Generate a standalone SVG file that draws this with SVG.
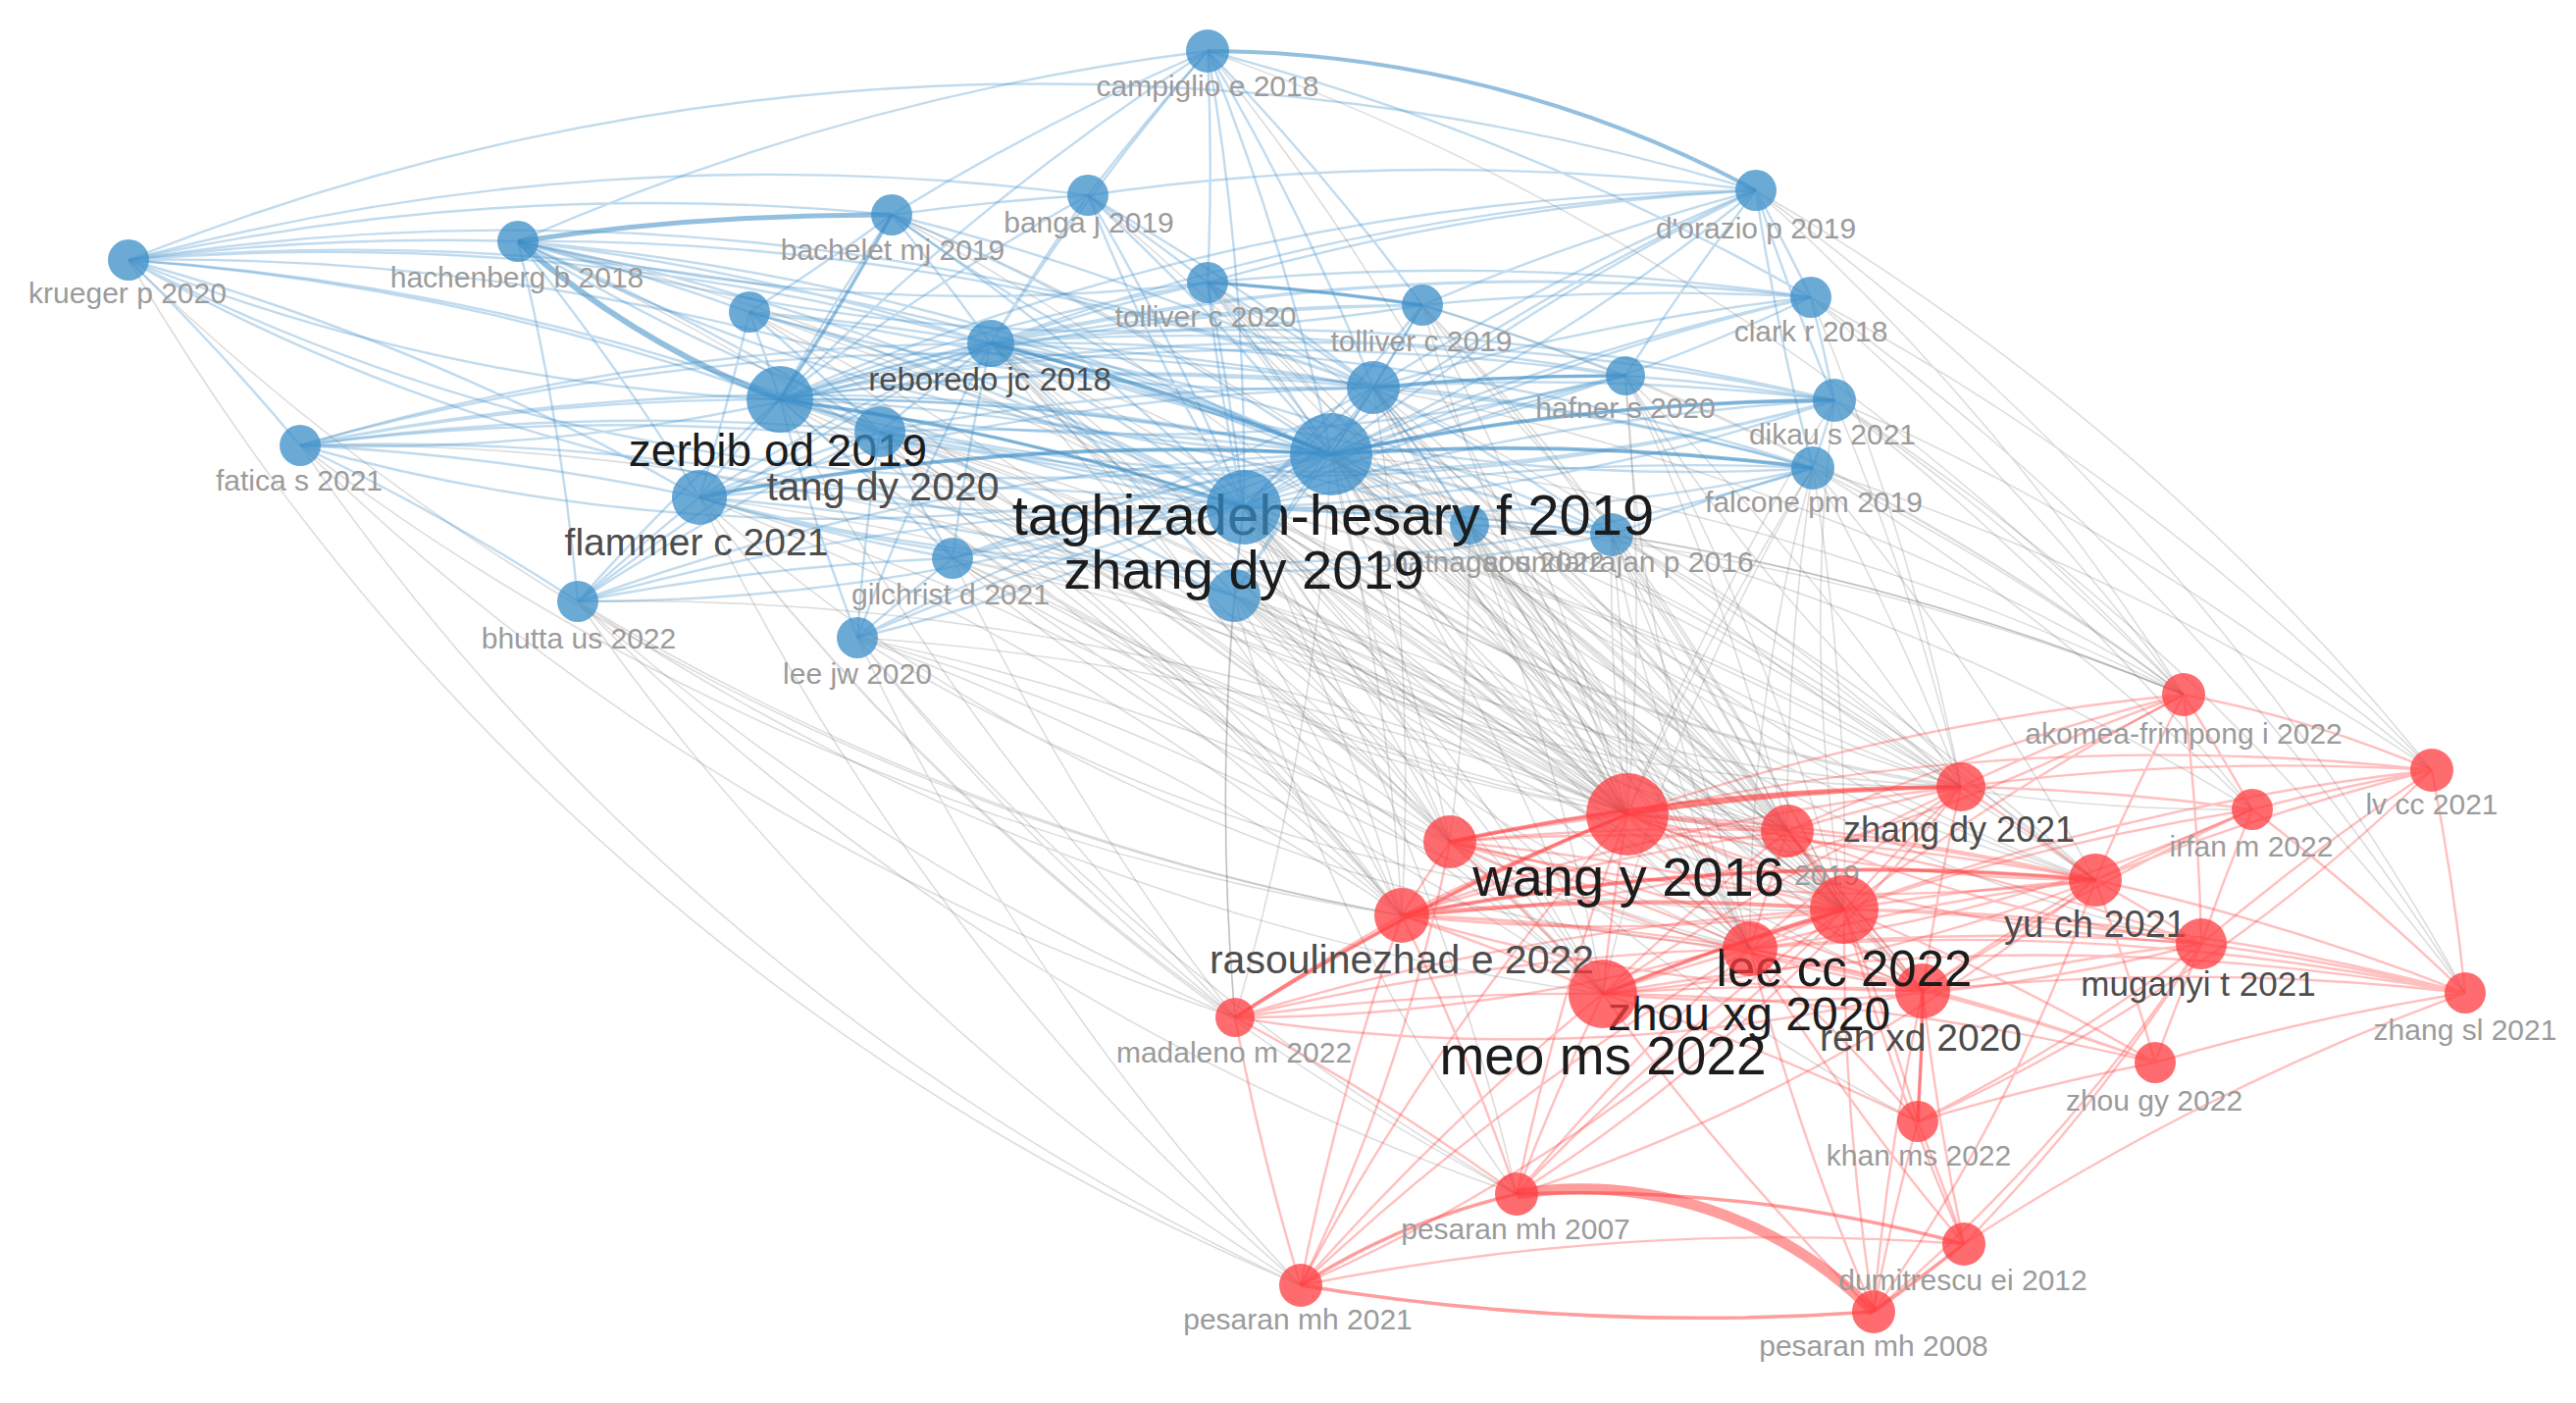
<svg xmlns="http://www.w3.org/2000/svg" width="2626" height="1430" viewBox="0 0 2626 1430">
<style>
.be{fill:none;stroke:#3f90c9;stroke-opacity:.32;stroke-width:2.4}
.bt{fill:none;stroke:#3d8cc4;stroke-opacity:.55}
.ge{fill:none;stroke:#555;stroke-opacity:.2;stroke-width:1.6}
.re{fill:none;stroke:#ff3c3c;stroke-opacity:.33;stroke-width:2.4}
.rt{fill:none;stroke:#ff3c3c;stroke-opacity:.5}
.nb{fill:#3b8ec8;fill-opacity:.75}
.nr{fill:#ff3b3f;fill-opacity:.75}
text{font-family:"Liberation Sans",Arial,sans-serif;text-anchor:middle}
.s{font-size:30px;fill:#9b9b9b}
.m{fill:#4d4d4d}
.l{fill:#1c1c1c}
</style>
<rect width="2626" height="1430" fill="#fff"/>
<g id="connectors">
<g id="grey-edges">
<path class="ge" d="M1357 463A2500 2500 0 0 1 1659 830M1357 463A2500 2500 0 0 1 1822 847M1357 463A2500 2500 0 0 1 1478 858M1357 463A2500 2500 0 0 1 1429 933M1357 463A2500 2500 0 0 1 1880 927M1357 463A2500 2500 0 0 1 1784 967M1357 463A2500 2500 0 0 1 1634 1013M1357 463A2500 2500 0 0 1 1999 802M1357 463A2500 2500 0 0 1 2226 708M1357 463A2500 2500 0 0 1 2136 897M1357 463A2500 2500 0 0 1 1960 1010M1357 463A2500 2500 0 0 1 1259 1037"/>
<path class="ge" d="M1268 517A2500 2500 0 0 1 1659 830M1268 517A2500 2500 0 0 1 1822 847M1268 517A2500 2500 0 0 1 1478 858M1268 517A2500 2500 0 0 1 1429 933M1268 517A2500 2500 0 0 1 1880 927M1268 517A2500 2500 0 0 1 1784 967M1268 517A2500 2500 0 0 1 1634 1013M1268 517A2500 2500 0 0 1 1960 1010M1268 517A2500 2500 0 0 1 1999 802M1268 517A2500 2500 0 0 1 2136 897M1259 1037A2500 2500 0 0 1 1268 517M1268 517A2500 2500 0 0 1 1546 1217M1268 517A2500 2500 0 0 1 2226 708"/>
<path class="ge" d="M1258 607A2500 2500 0 0 1 1659 830M1258 607A2500 2500 0 0 1 1822 847M1258 607A2500 2500 0 0 1 1478 858M1258 607A2500 2500 0 0 1 1429 933M1258 607A2500 2500 0 0 1 1880 927M1258 607A2500 2500 0 0 1 1634 1013M1258 607A2500 2500 0 0 1 1784 967M1259 1037A2500 2500 0 0 1 1258 607"/>
<path class="ge" d="M1400 395A2500 2500 0 0 1 1659 830M1400 395A2500 2500 0 0 1 1822 847M1400 395A2500 2500 0 0 1 1880 927M1400 395A2500 2500 0 0 1 1999 802M1400 395A2500 2500 0 0 1 2226 708M1400 395A2500 2500 0 0 1 1429 933M1400 395A2500 2500 0 0 1 1784 967"/>
<path class="ge" d="M1498 535A2500 2500 0 0 1 1659 830M1498 535A2500 2500 0 0 1 1822 847M1498 535A2500 2500 0 0 1 1478 858M1498 535A2500 2500 0 0 1 1880 927M1498 535A2500 2500 0 0 1 1784 967M1498 535A2500 2500 0 0 1 1634 1013M1498 535A2500 2500 0 0 1 1999 802M1498 535A2500 2500 0 0 1 2226 708"/>
<path class="ge" d="M1643 545A2500 2500 0 0 1 1659 830M1643 545A2500 2500 0 0 1 1822 847M1643 545A2500 2500 0 0 1 1880 927M1643 545A2500 2500 0 0 1 1999 802M1643 545A2500 2500 0 0 1 2226 708M1643 545A2500 2500 0 0 1 2136 897M1643 545A2500 2500 0 0 1 1784 967M1643 545A2500 2500 0 0 1 2296 825"/>
<path class="ge" d="M1848 477A2500 2500 0 0 1 2226 708M1848 477A2500 2500 0 0 1 2479 785M1848 477A2500 2500 0 0 1 1999 802M1659 830A2500 2500 0 0 1 1848 477M1848 477A2500 2500 0 0 1 1880 927M1848 477A2500 2500 0 0 1 2296 825M1848 477A2500 2500 0 0 1 2136 897M1822 847A2500 2500 0 0 1 1848 477"/>
<path class="ge" d="M1870 408A2500 2500 0 0 1 2226 708M1870 408A2500 2500 0 0 1 2479 785M1870 408A2500 2500 0 0 1 2296 825M1870 408A2500 2500 0 0 1 2513 1012M1870 408A2500 2500 0 0 1 1999 802M1659 830A2500 2500 0 0 1 1870 408"/>
<path class="ge" d="M1846 303A2500 2500 0 0 1 2226 708M1846 303A2500 2500 0 0 1 2479 785M1846 303A2500 2500 0 0 1 2513 1012M1846 303A2500 2500 0 0 1 1999 802M1790 194A2500 2500 0 0 1 2479 785M1790 194A2500 2500 0 0 1 2513 1012M1790 194A2500 2500 0 0 1 2226 708"/>
<path class="ge" d="M1657 383A2500 2500 0 0 1 1659 830M1657 383A2500 2500 0 0 1 1880 927M1657 383A2500 2500 0 0 1 2226 708M1657 383A2500 2500 0 0 1 1999 802M1657 383A2500 2500 0 0 1 1822 847M1450 311A2500 2500 0 0 1 1659 830M1450 311A2500 2500 0 0 1 2226 708M1450 311A2500 2500 0 0 1 1880 927M1450 311A2500 2500 0 0 1 1822 847M1231 288A2500 2500 0 0 1 1659 830M1231 288A2500 2500 0 0 1 1880 927M1231 288A2500 2500 0 0 1 1784 967"/>
<path class="ge" d="M1010 350A2500 2500 0 0 1 1659 830M1010 350A2500 2500 0 0 1 1429 933M1010 350A2500 2500 0 0 1 1478 858M1010 350A2500 2500 0 0 1 1634 1013M1010 350A2500 2500 0 0 1 1880 927M795 407A2500 2500 0 0 1 1659 830M795 407A2500 2500 0 0 1 1429 933M795 407A2500 2500 0 0 1 1478 858M795 407A2500 2500 0 0 1 1634 1013M1259 1037A2500 2500 0 0 1 795 407M897 440A2500 2500 0 0 1 1659 830M897 440A2500 2500 0 0 1 1478 858M897 440A2500 2500 0 0 1 1429 933M897 440A2500 2500 0 0 1 1880 927M897 440A2500 2500 0 0 1 1634 1013"/>
<path class="ge" d="M713 507A2500 2500 0 0 1 1659 830M713 507A2500 2500 0 0 1 1429 933M713 507A2500 2500 0 0 1 1634 1013M1259 1037A2500 2500 0 0 1 713 507M1546 1217A2500 2500 0 0 1 713 507M1326 1310A2500 2500 0 0 1 713 507M971 569A2500 2500 0 0 1 1659 830M971 569A2500 2500 0 0 1 1478 858M971 569A2500 2500 0 0 1 1429 933M971 569A2500 2500 0 0 1 1634 1013M1259 1037A2500 2500 0 0 1 971 569M971 569A2500 2500 0 0 1 1880 927"/>
<path class="ge" d="M874 650A2500 2500 0 0 1 1659 830M874 650A2500 2500 0 0 1 1429 933M874 650A2500 2500 0 0 1 1634 1013M1259 1037A2500 2500 0 0 1 874 650M1546 1217A2500 2500 0 0 1 874 650M1326 1310A2500 2500 0 0 1 874 650M874 650A2500 2500 0 0 1 1478 858M1429 933A2500 2500 0 0 1 589 613M1634 1013A2500 2500 0 0 1 589 613M1259 1037A2500 2500 0 0 1 589 613M1326 1310A2500 2500 0 0 1 589 613M1546 1217A2500 2500 0 0 1 589 613M589 613A2500 2500 0 0 1 1659 830"/>
<path class="ge" d="M306 454A2500 2500 0 0 1 1659 830M1429 933A2500 2500 0 0 1 306 454M1259 1037A2500 2500 0 0 1 306 454M1326 1310A2500 2500 0 0 1 306 454M1429 933A2500 2500 0 0 1 131 265M1326 1310A2500 2500 0 0 1 131 265M528 246A2500 2500 0 0 1 1659 830M528 246A2500 2500 0 0 1 1429 933M764 318A2500 2500 0 0 1 1659 830M764 318A2500 2500 0 0 1 1429 933M764 318A2500 2500 0 0 1 1478 858M909 219A2500 2500 0 0 1 1659 830M909 219A2500 2500 0 0 1 1880 927M1109 199A2500 2500 0 0 1 1659 830M1231 52A2500 2500 0 0 1 1659 830M1231 52A2500 2500 0 0 1 2226 708"/>
<path class="ge" d="M1357 463A1800 1800 0 0 0 1659 830M1357 463A1800 1800 0 0 0 1822 847M1357 463A1800 1800 0 0 0 1478 858M1357 463A1800 1800 0 0 0 1880 927M1357 463A1800 1800 0 0 0 1784 967M1357 463A1800 1800 0 0 0 1999 802M1357 463A1800 1800 0 0 0 2136 897M1268 517A1800 1800 0 0 0 1659 830M1268 517A1800 1800 0 0 0 1822 847M1268 517A1800 1800 0 0 0 1880 927M1268 517A1800 1800 0 0 0 1784 967M1268 517A1800 1800 0 0 0 1999 802M1268 517A1800 1800 0 0 0 1960 1010M1258 607A1800 1800 0 0 0 1659 830M1258 607A1800 1800 0 0 0 1822 847M1258 607A1800 1800 0 0 0 1880 927M1258 607A1800 1800 0 0 0 1999 802M1400 395A1800 1800 0 0 0 1659 830M1400 395A1800 1800 0 0 0 1880 927M1400 395A1800 1800 0 0 0 2136 897M1498 535A1800 1800 0 0 0 1659 830M1498 535A1800 1800 0 0 0 1880 927M1498 535A1800 1800 0 0 0 2136 897M1643 545A1800 1800 0 0 0 1659 830M1643 545A1800 1800 0 0 0 1784 967M1643 545A1800 1800 0 0 0 1960 1010"/>
<path class="ge" d="M1010 350A1800 1800 0 0 0 1659 830M1010 350A1800 1800 0 0 0 1822 847M1010 350A1800 1800 0 0 0 1784 967M795 407A1800 1800 0 0 0 1659 830M795 407A1800 1800 0 0 0 1822 847M897 440A1800 1800 0 0 0 1784 967M897 440A1800 1800 0 0 0 1999 802M971 569A1800 1800 0 0 0 1784 967M971 569A1800 1800 0 0 0 1822 847M874 650A1800 1800 0 0 0 1880 927M713 507A1800 1800 0 0 0 1784 967M1231 288A1800 1800 0 0 0 1822 847M1231 288A1800 1800 0 0 0 1999 802M1450 311A1800 1800 0 0 0 1999 802M1450 311A1800 1800 0 0 0 1784 967M1657 383A1800 1800 0 0 0 1784 967M1657 383A1800 1800 0 0 0 2136 897M1848 477A1800 1800 0 0 0 1784 967M1848 477A1800 1800 0 0 0 1634 1013M1870 408A1800 1800 0 0 0 1880 927M1268 517A1800 1800 0 0 0 2296 825M1357 463A1800 1800 0 0 0 2244 962M1268 517A1800 1800 0 0 0 1955 1143M1258 607A1800 1800 0 0 0 1546 1217M1400 395A1800 1800 0 0 0 1960 1010"/>
</g>
<g id="blue-edges">
<path class="be" d="M1231 52A2500 2500 0 0 1 1357 463M1231 52A2500 2500 0 0 1 1268 517M795 407A2500 2500 0 0 1 1231 52M1010 350A2500 2500 0 0 1 1231 52M131 265A2500 2500 0 0 1 1357 463M131 265A2500 2500 0 0 1 1268 517M131 265A2500 2500 0 0 1 795 407M131 265A2500 2500 0 0 1 1010 350M528 246A2500 2500 0 0 1 1357 463M528 246A2500 2500 0 0 1 1268 517M528 246A2500 2500 0 0 1 1010 350M909 219A2500 2500 0 0 1 1357 463M909 219A2500 2500 0 0 1 1268 517M795 407A2500 2500 0 0 1 909 219M909 219A2500 2500 0 0 1 1010 350M1109 199A2500 2500 0 0 1 1357 463M1109 199A2500 2500 0 0 1 1268 517M795 407A2500 2500 0 0 1 1109 199M1010 350A2500 2500 0 0 1 1109 199"/>
<path class="be" d="M1357 463A2500 2500 0 0 1 1790 194M1268 517A2500 2500 0 0 1 1790 194M795 407A2500 2500 0 0 1 1790 194M1010 350A2500 2500 0 0 1 1790 194M1357 463A2500 2500 0 0 1 1846 303M1268 517A2500 2500 0 0 1 1846 303M795 407A2500 2500 0 0 1 1846 303M1010 350A2500 2500 0 0 1 1846 303M1231 288A2500 2500 0 0 1 1357 463M1231 288A2500 2500 0 0 1 1268 517M795 407A2500 2500 0 0 1 1231 288M1010 350A2500 2500 0 0 1 1231 288M1450 311A2500 2500 0 0 1 1357 463M1450 311A2500 2500 0 0 1 1268 517M795 407A2500 2500 0 0 1 1450 311M1010 350A2500 2500 0 0 1 1450 311"/>
<path class="be" d="M764 318A2500 2500 0 0 1 1357 463M764 318A2500 2500 0 0 1 1268 517M764 318A2500 2500 0 0 1 795 407M764 318A2500 2500 0 0 1 1010 350M306 454A2500 2500 0 0 1 1357 463M306 454A2500 2500 0 0 1 1268 517M306 454A2500 2500 0 0 1 795 407M306 454A2500 2500 0 0 1 1010 350M1357 463A2500 2500 0 0 1 1657 383M1268 517A2500 2500 0 0 1 1657 383M795 407A2500 2500 0 0 1 1657 383M1010 350A2500 2500 0 0 1 1657 383M1357 463A2500 2500 0 0 1 1870 408M1268 517A2500 2500 0 0 1 1870 408M795 407A2500 2500 0 0 1 1870 408M1010 350A2500 2500 0 0 1 1870 408"/>
<path class="be" d="M1357 463A2500 2500 0 0 1 1848 477M1268 517A2500 2500 0 0 1 1848 477M795 407A2500 2500 0 0 1 1848 477M1010 350A2500 2500 0 0 1 1848 477M1357 463A2500 2500 0 0 1 1498 535M1268 517A2500 2500 0 0 1 1498 535M795 407A2500 2500 0 0 1 1498 535M1010 350A2500 2500 0 0 1 1498 535M1357 463A2500 2500 0 0 1 1643 545M1268 517A2500 2500 0 0 1 1643 545M795 407A2500 2500 0 0 1 1643 545M1010 350A2500 2500 0 0 1 1643 545"/>
<path class="be" d="M971 569A2500 2500 0 0 1 1357 463M971 569A2500 2500 0 0 1 1268 517M795 407A2500 2500 0 0 1 971 569M971 569A2500 2500 0 0 1 1010 350M589 613A2500 2500 0 0 1 1357 463M589 613A2500 2500 0 0 1 1268 517M589 613A2500 2500 0 0 1 795 407M589 613A2500 2500 0 0 1 1010 350M874 650A2500 2500 0 0 1 1357 463M874 650A2500 2500 0 0 1 1268 517M874 650A2500 2500 0 0 1 795 407M874 650A2500 2500 0 0 1 1010 350"/>
<path class="be" d="M1357 463A2500 2500 0 0 1 1268 517M795 407A2500 2500 0 0 1 1357 463M1010 350A2500 2500 0 0 1 1357 463M1357 463A2500 2500 0 0 1 1400 395M1258 607A2500 2500 0 0 1 1357 463M897 440A2500 2500 0 0 1 1357 463M713 507A2500 2500 0 0 1 1357 463M795 407A2500 2500 0 0 1 1268 517M1010 350A2500 2500 0 0 1 1268 517M1268 517A2500 2500 0 0 1 1400 395M1258 607A2500 2500 0 0 1 1268 517M897 440A2500 2500 0 0 1 1268 517M713 507A2500 2500 0 0 1 1268 517M795 407A2500 2500 0 0 1 1010 350M795 407A2500 2500 0 0 1 1400 395M795 407A2500 2500 0 0 1 1258 607M795 407A2500 2500 0 0 1 897 440M713 507A2500 2500 0 0 1 795 407M1010 350A2500 2500 0 0 1 1400 395M1010 350A2500 2500 0 0 1 1258 607M897 440A2500 2500 0 0 1 1010 350M713 507A2500 2500 0 0 1 1010 350M1258 607A2500 2500 0 0 1 1400 395M897 440A2500 2500 0 0 1 1400 395M713 507A2500 2500 0 0 1 1400 395M897 440A2500 2500 0 0 1 1258 607M713 507A2500 2500 0 0 1 1258 607M713 507A2500 2500 0 0 1 897 440"/>
<path class="be" d="M131 265A2500 2500 0 0 1 897 440M131 265A2500 2500 0 0 1 713 507M131 265A2500 2500 0 0 1 1400 395M306 454A2500 2500 0 0 1 897 440M306 454A2500 2500 0 0 1 713 507M306 454A2500 2500 0 0 1 1400 395M306 454A2500 2500 0 0 1 1258 607M528 246A2500 2500 0 0 1 897 440M528 246A2500 2500 0 0 1 713 507M528 246A2500 2500 0 0 1 1400 395M589 613A2500 2500 0 0 1 897 440M589 613A2500 2500 0 0 1 713 507M874 650A2500 2500 0 0 1 897 440M971 569A2500 2500 0 0 1 897 440M971 569A2500 2500 0 0 1 713 507M909 219A2500 2500 0 0 1 1400 395M1109 199A2500 2500 0 0 1 1400 395M1400 395A2500 2500 0 0 1 1790 194M1400 395A2500 2500 0 0 1 1846 303M1400 395A2500 2500 0 0 1 1657 383M1400 395A2500 2500 0 0 1 1870 408M1400 395A2500 2500 0 0 1 1848 477M1450 311A2500 2500 0 0 1 1400 395M1231 288A2500 2500 0 0 1 1400 395M1400 395A2500 2500 0 0 1 1498 535M1400 395A2500 2500 0 0 1 1643 545M764 318A2500 2500 0 0 1 897 440M764 318A2500 2500 0 0 1 713 507M1231 52A2500 2500 0 0 1 1400 395"/>
<path class="be" d="M909 219A2500 2500 0 0 1 1109 199M1109 199A2500 2500 0 0 1 1790 194M528 246A2500 2500 0 0 1 1231 52M909 219A2500 2500 0 0 1 1231 52M131 265A2500 2500 0 0 1 528 246M131 265A2500 2500 0 0 1 909 219M528 246A2500 2500 0 0 1 764 318M909 219A2500 2500 0 0 1 764 318M1790 194A2500 2500 0 0 1 1846 303M1231 288A2500 2500 0 0 1 1790 194M1450 311A2500 2500 0 0 1 1790 194M1231 288A2500 2500 0 0 1 1450 311M1450 311A2500 2500 0 0 1 1657 383M1657 383A2500 2500 0 0 1 1870 408M1846 303A2500 2500 0 0 1 1870 408M1643 545A2500 2500 0 0 1 1848 477M131 265A2500 2500 0 0 1 306 454M1870 408A2500 2500 0 0 1 1848 477M1109 199A2500 2500 0 0 1 1231 288M1657 383A2500 2500 0 0 1 1790 194M1848 477A2500 2500 0 0 1 1790 194M1870 408A2500 2500 0 0 1 1790 194M1231 52A2500 2500 0 0 1 1450 311M1231 52A2500 2500 0 0 1 1231 288M1109 199A2500 2500 0 0 1 1231 52M1231 52A2500 2500 0 0 1 1846 303M1498 535A2500 2500 0 0 1 1643 545M1231 288A2500 2500 0 0 1 1846 303M1450 311A2500 2500 0 0 1 1846 303"/>
<path class="be" d="M131 265A2500 2500 0 0 1 1790 194M131 265A2500 2500 0 0 1 1109 199M306 454A2500 2500 0 0 1 589 613M528 246A2500 2500 0 0 1 589 613M589 613A2500 2500 0 0 1 971 569M874 650A2500 2500 0 0 1 971 569"/>
<path class="be" d="M131 265A2000 2000 0 0 0 1357 463M131 265A2000 2000 0 0 0 1268 517M131 265A2000 2000 0 0 0 795 407M306 454A2000 2000 0 0 0 1357 463M306 454A2000 2000 0 0 0 1010 350M528 246A2000 2000 0 0 0 1357 463M528 246A2000 2000 0 0 0 1268 517M909 219A2000 2000 0 0 0 1357 463M1109 199A2000 2000 0 0 0 1268 517M1231 288A2000 2000 0 0 0 1268 517M1357 463A2000 2000 0 0 0 1790 194M1357 463A2000 2000 0 0 0 1846 303M1268 517A2000 2000 0 0 0 1870 408M1268 517A2000 2000 0 0 0 1848 477M795 407A2000 2000 0 0 0 1657 383M795 407A2000 2000 0 0 0 1870 408M1010 350A2000 2000 0 0 0 1848 477M589 613A2000 2000 0 0 0 1357 463M874 650A2000 2000 0 0 0 1357 463M971 569A2000 2000 0 0 0 1400 395M713 507A2000 2000 0 0 0 1643 545M713 507A2000 2000 0 0 0 1848 477M897 440A2000 2000 0 0 0 1870 408M764 318A2000 2000 0 0 0 1400 395M528 246A2000 2000 0 0 0 1450 311M528 246A2000 2000 0 0 0 1231 288"/>
<path class="bt" stroke-width="5" d="M528 246A2500 2500 0 0 1 909 219"/>
<path class="bt" stroke-width="6" d="M795 407A900 900 0 0 1 528 246"/>
<path class="bt" stroke-width="4" d="M1231 52A1200 1200 0 0 1 1790 194"/>
<path class="bt" stroke-width="4" d="M713 507A2500 2500 0 0 1 1357 463M1010 350A2500 2500 0 0 1 1357 463M1357 463A2500 2500 0 0 1 1870 408M1357 463A2500 2500 0 0 1 1848 477"/>
<path class="bt" stroke-width="3.5" d="M909 219A2500 2500 0 0 1 795 407M795 407A2500 2500 0 0 1 1268 517M1400 395A2500 2500 0 0 1 1657 383M1231 288A2500 2500 0 0 1 1450 311"/>
</g>
<g id="red-edges">
<path class="re" d="M1659 830A2500 2500 0 0 1 1822 847M1478 858A2500 2500 0 0 1 1659 830M1429 933A2500 2500 0 0 1 1659 830M1659 830A2500 2500 0 0 1 1880 927M1659 830A2500 2500 0 0 1 1784 967M1634 1013A2500 2500 0 0 1 1659 830M1659 830A2500 2500 0 0 1 1960 1010M1659 830A2500 2500 0 0 1 1999 802M1659 830A2500 2500 0 0 1 2136 897M1478 858A2500 2500 0 0 1 1822 847M1429 933A2500 2500 0 0 1 1822 847M1822 847A2500 2500 0 0 1 1880 927M1784 967A2500 2500 0 0 1 1822 847M1634 1013A2500 2500 0 0 1 1822 847M1822 847A2500 2500 0 0 1 1960 1010M1822 847A2500 2500 0 0 1 1999 802M1822 847A2500 2500 0 0 1 2136 897"/>
<path class="re" d="M1429 933A2500 2500 0 0 1 1478 858M1478 858A2500 2500 0 0 1 1880 927M1478 858A2500 2500 0 0 1 1784 967M1478 858A2500 2500 0 0 1 1634 1013M1478 858A2500 2500 0 0 1 1960 1010M1478 858A2500 2500 0 0 1 1999 802M1478 858A2500 2500 0 0 1 2136 897M1429 933A2500 2500 0 0 1 1784 967M1429 933A2500 2500 0 0 1 1634 1013M1429 933A2500 2500 0 0 1 1960 1010M1429 933A2500 2500 0 0 1 1999 802M1429 933A2500 2500 0 0 1 2136 897M1784 967A2500 2500 0 0 1 1880 927M1634 1013A2500 2500 0 0 1 1880 927M1880 927A2500 2500 0 0 1 1960 1010M1880 927A2500 2500 0 0 1 1999 802M1880 927A2500 2500 0 0 1 2136 897M1634 1013A2500 2500 0 0 1 1784 967M1784 967A2500 2500 0 0 1 1960 1010M1784 967A2500 2500 0 0 1 1999 802M1784 967A2500 2500 0 0 1 2136 897M1634 1013A2500 2500 0 0 1 1960 1010M1634 1013A2500 2500 0 0 1 1999 802M1634 1013A2500 2500 0 0 1 2136 897M1960 1010A2500 2500 0 0 1 1999 802M1960 1010A2500 2500 0 0 1 2136 897M1999 802A2500 2500 0 0 1 2136 897"/>
<path class="re" d="M1999 802A2500 2500 0 0 1 2226 708M2136 897A2500 2500 0 0 1 2226 708M1659 830A2500 2500 0 0 1 2226 708M1880 927A2500 2500 0 0 1 2226 708M1822 847A2500 2500 0 0 1 2226 708M2226 708A2500 2500 0 0 1 2296 825M2226 708A1200 1200 0 0 1 2479 785M2226 708A2500 2500 0 0 1 2244 962M2136 897A2500 2500 0 0 1 2479 785M1999 802A2500 2500 0 0 1 2479 785M1880 927A2500 2500 0 0 1 2479 785M2296 825A2500 2500 0 0 1 2479 785M2479 785A2500 2500 0 0 1 2513 1012M1659 830A2500 2500 0 0 1 2479 785M2244 962A2500 2500 0 0 1 2479 785M2136 897A2500 2500 0 0 1 2296 825M1999 802A2500 2500 0 0 1 2296 825M1880 927A2500 2500 0 0 1 2296 825M1960 1010A2500 2500 0 0 1 2296 825M2244 962A2500 2500 0 0 1 2296 825M2296 825A2500 2500 0 0 1 2513 1012"/>
<path class="re" d="M2136 897A2500 2500 0 0 1 2244 962M1880 927A2500 2500 0 0 1 2244 962M1960 1010A2500 2500 0 0 1 2244 962M1784 967A2500 2500 0 0 1 2244 962M2244 962A2500 2500 0 0 1 2513 1012M2197 1083A2500 2500 0 0 1 2244 962M1659 830A2500 2500 0 0 1 2244 962M2136 897A2500 2500 0 0 1 2513 1012M1880 927A2500 2500 0 0 1 2513 1012M1960 1010A2500 2500 0 0 1 2513 1012M2197 1083A2500 2500 0 0 1 2513 1012M1784 967A2500 2500 0 0 1 2513 1012M1634 1013A2500 2500 0 0 1 2513 1012M2002 1268A2500 2500 0 0 1 2513 1012M1880 927A2500 2500 0 0 1 2197 1083M1960 1010A2500 2500 0 0 1 2197 1083M1784 967A2500 2500 0 0 1 2197 1083M1634 1013A2500 2500 0 0 1 2197 1083M2136 897A2500 2500 0 0 1 2197 1083M1955 1143A2500 2500 0 0 1 2197 1083"/>
<path class="re" d="M1259 1037A2500 2500 0 0 1 1429 933M1259 1037A2500 2500 0 0 1 1634 1013M1259 1037A2500 2500 0 0 1 1659 830M1259 1037A2500 2500 0 0 1 1784 967M1259 1037A2500 2500 0 0 1 1880 927M1326 1310A2500 2500 0 0 1 1259 1037M1259 1037A2500 2500 0 0 1 1546 1217M1880 927A2500 2500 0 0 1 1955 1143M1960 1010A2500 2500 0 0 1 1955 1143M1784 967A2500 2500 0 0 1 1955 1143M1634 1013A2500 2500 0 0 1 1955 1143M1955 1143A2500 2500 0 0 1 2002 1268M1910 1337A2500 2500 0 0 1 1955 1143"/>
<path class="re" d="M1546 1217A2500 2500 0 0 1 1634 1013M1546 1217A2500 2500 0 0 1 1784 967M1546 1217A2500 2500 0 0 1 1880 927M1429 933A2500 2500 0 0 1 1546 1217M1546 1217A2500 2500 0 0 1 1659 830M2002 1268A2500 2500 0 0 1 1880 927M2002 1268A2500 2500 0 0 1 1784 967M2002 1268A2500 2500 0 0 1 1960 1010M1326 1310A2500 2500 0 0 1 1634 1013M1326 1310A2500 2500 0 0 1 1429 933M1326 1310A2500 2500 0 0 1 1659 830M1326 1310A2500 2500 0 0 1 1784 967M1910 1337A2500 2500 0 0 1 1784 967M1910 1337A2500 2500 0 0 1 1634 1013M1910 1337A2500 2500 0 0 1 1880 927M1910 1337A2500 2500 0 0 1 1960 1010M1326 1310A2500 2500 0 0 1 2002 1268"/>
<path class="re" d="M1429 933A1800 1800 0 0 0 1880 927M1429 933A1800 1800 0 0 0 1960 1010M1478 858A1800 1800 0 0 0 1960 1010M1478 858A1800 1800 0 0 0 2136 897M1659 830A1800 1800 0 0 0 2136 897M1659 830A1800 1800 0 0 0 2244 962M1634 1013A1800 1800 0 0 0 2136 897M1634 1013A1800 1800 0 0 0 2244 962M1784 967A1800 1800 0 0 0 2296 825M1822 847A1800 1800 0 0 0 2244 962M1429 933A1800 1800 0 0 0 2226 708M1259 1037A1800 1800 0 0 0 1880 927M1259 1037A1800 1800 0 0 0 1960 1010M1326 1310A1800 1800 0 0 0 1880 927M1326 1310A1800 1800 0 0 0 1478 858M1546 1217A1800 1800 0 0 0 1999 802M1546 1217A1800 1800 0 0 0 2136 897M1910 1337A1800 1800 0 0 0 2136 897M1910 1337A1800 1800 0 0 0 2244 962M2002 1268A1800 1800 0 0 0 2244 962M1955 1143A1800 1800 0 0 0 2244 962M1955 1143A1800 1800 0 0 0 2479 785"/>
<path class="rt" stroke-width="4" d="M1429 933A2500 2500 0 0 1 1880 927M1659 830A2500 2500 0 0 1 1999 802M1634 1013A2500 2500 0 0 1 1880 927M1478 858A2500 2500 0 0 1 1999 802M1429 933A2500 2500 0 0 1 2136 897M1259 1037A2500 2500 0 0 1 1659 830"/>
<path class="rt" stroke-width="3.5" d="M1546 1217A1500 1500 0 0 1 2002 1268M1910 1337A2500 2500 0 0 1 1326 1310M1326 1310A700 700 0 0 1 1546 1217M2002 1268A2500 2500 0 0 1 1910 1337M1960 1010A2500 2500 0 0 1 1955 1143"/>
<path class="rt" stroke-width="11" stroke-opacity=".4" d="M1546 1217A420 420 0 0 1 1910 1337"/>
</g>
</g>
<g id="nodes">
<g id="n-campiglio"><circle class="nb" cx="1231" cy="52" r="22"/><text class="s" x="1231" y="98">campiglio e 2018</text></g>
<g id="n-krueger"><circle class="nb" cx="131" cy="265" r="21"/><text class="s" x="130" y="309">krueger p 2020</text></g>
<g id="n-hachenberg"><circle class="nb" cx="528" cy="246" r="21"/><text class="s" x="527" y="293">hachenberg b 2018</text></g>
<g id="n-bachelet"><circle class="nb" cx="909" cy="219" r="21"/><text class="s" x="910" y="265">bachelet mj 2019</text></g>
<g id="n-banga"><circle class="nb" cx="1109" cy="199" r="21"/><text class="s" x="1110" y="237">banga j 2019</text></g>
<g id="n-dorazio"><circle class="nb" cx="1790" cy="194" r="21"/><text class="s" x="1790" y="243">d'orazio p 2019</text></g>
<g id="n-clark"><circle class="nb" cx="1846" cy="303" r="21"/><text class="s" x="1846" y="348">clark r 2018</text></g>
<g id="n-tolliver2020"><circle class="nb" cx="1231" cy="288" r="21"/><text class="s" x="1229" y="333">tolliver c 2020</text></g>
<g id="n-tolliver2019"><circle class="nb" cx="1450" cy="311" r="21"/><text class="s" x="1449" y="358">tolliver c 2019</text></g>
<g id="n-b10"><circle class="nb" cx="764" cy="318" r="21"/></g>
<g id="n-b17"><circle class="nb" cx="1400" cy="395" r="27"/></g>
<g id="n-b24"><circle class="nb" cx="1258" cy="607" r="27"/></g>
<g id="n-reboredo"><circle class="nb" cx="1010" cy="350" r="24"/><text class="m" font-size="33" x="1009" y="398">reboredo jc 2018</text></g>
<g id="n-hafner"><circle class="nb" cx="1657" cy="383" r="20"/><text class="s" x="1657" y="426">hafner s 2020</text></g>
<g id="n-dikau"><circle class="nb" cx="1870" cy="408" r="22"/><text class="s" x="1868" y="453">dikau s 2021</text></g>
<g id="n-falcone"><circle class="nb" cx="1848" cy="477" r="22"/><text class="s" x="1849" y="522">falcone pm 2019</text></g>
<g id="n-fatica"><circle class="nb" cx="306" cy="454" r="21"/><text class="s" x="305" y="500">fatica s 2021</text></g>
<g id="n-gilchrist"><circle class="nb" cx="971" cy="569" r="21"/><text class="s" x="969" y="616">gilchrist d 2021</text></g>
<g id="n-bhutta"><circle class="nb" cx="589" cy="613" r="21"/><text class="s" x="590" y="661">bhutta us 2022</text></g>
<g id="n-leejw"><circle class="nb" cx="874" cy="650" r="21"/><text class="s" x="874" y="697">lee jw 2020</text></g>
<g id="n-bhatnagar"><circle class="nb" cx="1498" cy="535" r="20"/><text class="s" x="1519" y="583">bhatnagar s 2022</text></g>
<g id="n-soundarrajan"><circle class="nb" cx="1643" cy="545" r="22"/><text class="s" x="1650" y="583">soundarrajan p 2016</text></g>
<g id="n-zerbib"><circle class="nb" cx="795" cy="407" r="34"/><text class="l" font-size="46" x="793" y="475">zerbib od 2019</text></g>
<g id="n-tang"><circle class="nb" cx="897" cy="440" r="26"/><text class="m" font-size="41" x="900" y="510">tang dy 2020</text></g>
<g id="n-flammer"><circle class="nb" cx="713" cy="507" r="28"/><text class="m" font-size="39" x="710" y="566">flammer c 2021</text></g>
<g id="n-taghizadeh"><circle class="nb" cx="1357" cy="463" r="42"/><text class="l" font-size="58" x="1359" y="545">taghizadeh-hesary f 2019</text></g>
<g id="n-zhangdy2019"><circle class="nb" cx="1268" cy="517" r="38"/><text class="l" font-size="56" x="1268" y="600">zhang dy 2019</text></g>
<g id="n-akomea"><circle class="nr" cx="2226" cy="708" r="22"/><text class="s" font-size="31" x="2226" y="758">akomea-frimpong i 2022</text></g>
<g id="n-lvcc"><circle class="nr" cx="2479" cy="785" r="22"/><text class="s" x="2479" y="830">lv cc 2021</text></g>
<g id="n-irfan"><circle class="nr" cx="2296" cy="825" r="21"/><text class="s" x="2295" y="873">irfan m 2022</text></g>
<g id="n-zhangsl"><circle class="nr" cx="2513" cy="1012" r="21"/><text class="s" x="2513" y="1060">zhang sl 2021</text></g>
<g id="n-zhougy"><circle class="nr" cx="2197" cy="1083" r="21"/><text class="s" x="2196" y="1132">zhou gy 2022</text></g>
<g id="n-madaleno"><circle class="nr" cx="1259" cy="1037" r="20"/><text class="s" x="1258" y="1083">madaleno m 2022</text></g>
<g id="n-khan"><circle class="nr" cx="1955" cy="1143" r="21"/><text class="s" x="1956" y="1188">khan ms 2022</text></g>
<g id="n-pesaran2007"><circle class="nr" cx="1546" cy="1217" r="22"/><text class="s" x="1545" y="1263">pesaran mh 2007</text></g>
<g id="n-dumitrescu"><circle class="nr" cx="2002" cy="1268" r="22"/><text class="s" x="2001" y="1315">dumitrescu ei 2012</text></g>
<g id="n-pesaran2021"><circle class="nr" cx="1326" cy="1310" r="22"/><text class="s" x="1323" y="1355">pesaran mh 2021</text></g>
<g id="n-pesaran2008"><circle class="nr" cx="1910" cy="1337" r="22"/><text class="s" x="1910" y="1382">pesaran mh 2008</text></g>
<g id="n-r11"><circle class="nr" cx="1478" cy="858" r="27"/></g>
<g id="n-r10"><circle class="nr" cx="1822" cy="847" r="27"/><text class="s" font-size="37" fill="#7a7a7a" style="text-anchor:start" x="1829" y="902">2019</text></g>
<g id="n-zhangdy2021"><circle class="nr" cx="1999" cy="802" r="25"/><text class="m" font-size="36" x="1997" y="858">zhang dy 2021</text></g>
<g id="n-yuch"><circle class="nr" cx="2136" cy="897" r="27"/><text class="m" font-size="38" x="2136" y="955">yu ch 2021</text></g>
<g id="n-muganyi"><circle class="nr" cx="2244" cy="962" r="26"/><text class="m" font-size="35" x="2241" y="1015">muganyi t 2021</text></g>
<g id="n-rasoulinezhad"><circle class="nr" cx="1429" cy="933" r="28"/><text class="m" font-size="41" x="1429" y="992">rasoulinezhad e 2022</text></g>
<g id="n-renxd"><circle class="nr" cx="1960" cy="1010" r="28"/><text class="m" font-size="39" x="1958" y="1071">ren xd 2020</text></g>
<g id="n-wangy"><circle class="nr" cx="1659" cy="830" r="42"/><text class="l" font-size="56" x="1660" y="913">wang y 2016</text></g>
<g id="n-leecc"><circle class="nr" cx="1880" cy="927" r="35"/><text class="l" font-size="51" x="1880" y="1005">lee cc 2022</text></g>
<g id="n-zhouxg"><circle class="nr" cx="1784" cy="967" r="28"/><text class="l" font-size="48" x="1783" y="1050">zhou xg 2020</text></g>
<g id="n-meoms"><circle class="nr" cx="1634" cy="1013" r="35"/><text class="l" font-size="55" x="1634" y="1095">meo ms 2022</text></g>
</g>
</svg>
